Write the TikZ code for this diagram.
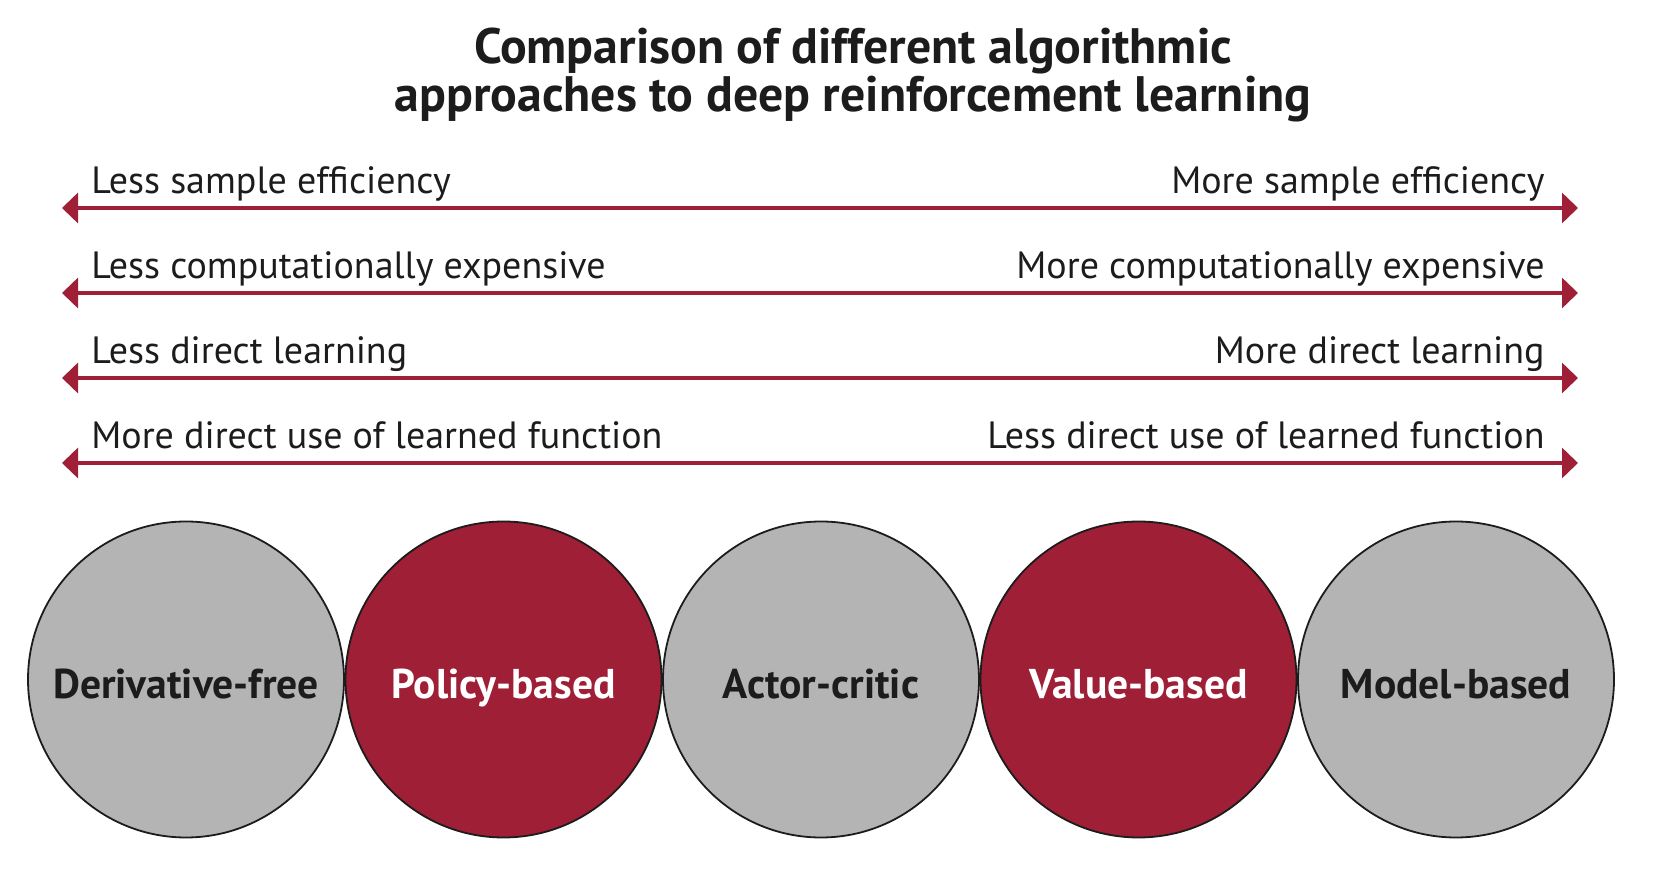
\documentclass[tikz,border=0pt]{standalone}
\usepackage{fontspec}
\setmainfont{PT Sans}
\usetikzlibrary{arrows.meta,positioning}

\definecolor{drlred}{RGB}{158,31,54}
\definecolor{drlgray}{RGB}{180,180,180}
\definecolor{drlink}{RGB}{28,28,28}

\tikzset{
  axisline/.style={draw=drlred,line width=1.6pt,{Triangle[length=8pt,width=15pt]}-{Triangle[length=8pt,width=15pt]}},
  lefttext/.style={anchor=base west,inner sep=0pt,text=drlink,font=\fontsize{19}{22}\selectfont},
  righttext/.style={anchor=base east,inner sep=0pt,text=drlink,font=\fontsize{19}{22}\selectfont},
  method/.style={circle,draw=drlink,line width=0.9pt,minimum size=158pt,inner sep=0pt,
    text height=19.5pt,text depth=0pt,font=\bfseries\fontsize{20.8}{24}\selectfont},
  graymethod/.style={method,fill=drlgray,text=drlink},
  redmethod/.style={method,fill=drlred,text=white},
}

\begin{document}
\begin{tikzpicture}[x=0.5pt,y=-0.5pt]
       \useasboundingbox (0,0) rectangle (1666,876);

       % title
       \node[anchor=base,inner sep=0pt,text=drlink,font=\bfseries\fontsize{24.9}{29}\selectfont] (title1) at (853,64) {Comparison of different algorithmic};
       \node[anchor=base,inner sep=0pt,text=drlink,font=\bfseries\fontsize{24.9}{29}\selectfont] (title2) at (853,111.5) {approaches to deep reinforcement learning};

       % trade-off axes
       \begin{scope}
        \coordinate (l1) at (62,208);
        \coordinate (r1) at (1578,208);
        \node[lefttext] (lt1) at (91,194) {Less sample efficiency};
        \node[righttext] (rt1) at (1545,194) {More sample efficiency};
        \draw[axisline] (l1) -- (r1);
       \end{scope}
       \begin{scope}[yshift=-42.5pt]
        \coordinate (l2) at (62,208);
        \coordinate (r2) at (1578,208);
        \node[lefttext] (lt2) at (91,194) {Less computationally expensive};
        \node[righttext] (rt2) at (1545,194) {More computationally expensive};
        \draw[axisline] (l2) -- (r2);
       \end{scope}
       \begin{scope}[yshift=-85pt]
        \coordinate (l3) at (62,208);
        \coordinate (r3) at (1578,208);
        \node[lefttext] (lt3) at (91,194) {Less direct learning};
        \node[righttext] (rt3) at (1545,194) {More direct learning};
        \draw[axisline] (l3) -- (r3);
       \end{scope}
       \begin{scope}[yshift=-127.5pt]
        \coordinate (l4) at (62,208);
        \coordinate (r4) at (1578,208);
        \node[lefttext] (lt4) at (91,194) {More direct use of learned function};
        \node[righttext] (rt4) at (1545,194) {Less direct use of learned function};
        \draw[axisline] (l4) -- (r4);
       \end{scope}

       % methods
       \node[graymethod] (dfree) at (186,679.5) {Derivative-free};
       \node[redmethod] (policy) at (503.5,679.5) {Policy-based};
       \node[graymethod] (actor) at (821,679.5) {Actor-critic};
       \node[redmethod] (value) at (1138.5,679.5) {Value-based};
       \node[graymethod] (model) at (1456,679.5) {Model-based};
\end{tikzpicture}
\end{document}
